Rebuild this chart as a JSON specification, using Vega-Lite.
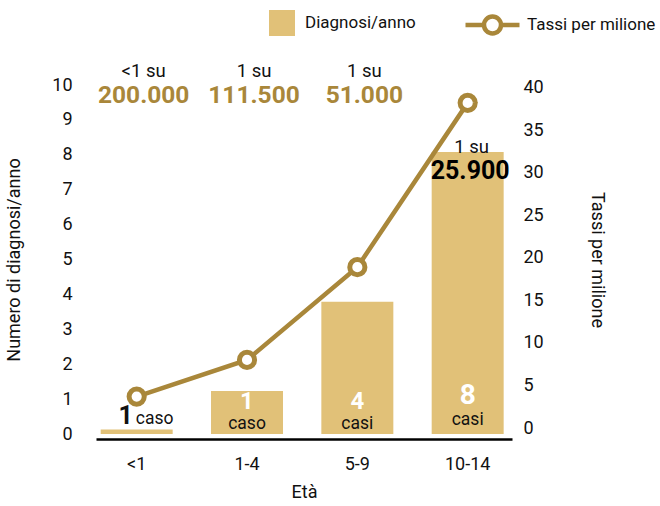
{
  "$schema": "https://vega.github.io/schema/vega-lite/v6.json",
  "width": 416,
  "height": 349,
  "autosize": {"type": "none"},
  "padding": {"left": 96, "top": 85, "right": 148, "bottom": 72},
  "background": "white",
  "config": {
    "font": "Roboto",
    "view": {"stroke": null},
    "axis": {
      "labelFont": "Roboto", "titleFont": "Roboto",
      "labelColor": "#111", "titleColor": "#111",
      "titleFontWeight": "normal", "labelFontSize": 18, "titleFontSize": 18,
      "grid": false, "ticks": false, "tickSize": 0, "labelOverlap": false
    },
    "legend": {"labelFont": "Roboto", "labelFontSize": 17, "labelColor": "#111", "padding": 0, "title": null},
    "text": {"font": "Roboto", "baseline": "middle"}
  },
  "datasets": {
    "d": [
      {"age": "<1", "diagnosi": 0.13, "tassi": 3.7, "su": "<1 su", "freq": "200.000", "casi": "1", "parola": "caso"},
      {"age": "1-4", "diagnosi": 1.23, "tassi": 8.0, "su": "1 su", "freq": "111.500", "casi": "1", "parola": "caso"},
      {"age": "5-9", "diagnosi": 3.79, "tassi": 18.9, "su": "1 su", "freq": "51.000", "casi": "4", "parola": "casi"},
      {"age": "10-14", "diagnosi": 8.08, "tassi": 38.2, "su": "1 su", "freq": "25.900", "casi": "8", "parola": "casi"}
    ]
  },
  "data": {"name": "d"},
  "layer": [
    {
      "layer": [
        {
          "mark": {"type": "bar"},
          "encoding": {
            "x": {
              "field": "age", "type": "nominal", "sort": ["<1", "1-4", "5-9", "10-14"],
              "scale": {"paddingInner": 0.3475, "paddingOuter": 0.059, "align": 0.36},
              "axis": {"title": "Età", "labelAngle": 0, "domain": true, "domainColor": "#000", "domainWidth": 2.5, "offset": 5, "labelPadding": 16, "titlePadding": 10}
            },
            "y": {
              "field": "diagnosi", "type": "quantitative", "scale": {"domain": [0, 10]},
              "axis": {"title": "Numero di diagnosi/anno", "values": [0, 1, 2, 3, 4, 5, 6, 7, 8, 9, 10], "tickCount": 11, "labelOverlap": false, "labelFlush": false, "domain": false, "labelPadding": 24, "titlePadding": 28}
            },
            "fill": {
              "datum": "Diagnosi/anno",
              "scale": {"range": ["#E1C178"]},
              "legend": {"orient": "none", "legendX": 173, "legendY": -75, "symbolType": "square", "symbolSize": 676, "symbolStrokeWidth": 0, "labelOffset": 10}
            }
          }
        },
        {
          "transform": [{"filter": "datum.age !== '10-14'"}],
          "mark": {"type": "text", "fontSize": 18.5, "color": "#111", "dx": 7},
          "encoding": {
            "x": {"field": "age", "type": "nominal", "sort": ["<1", "1-4", "5-9", "10-14"]},
            "y": {"datum": 10.4, "type": "quantitative", "scale": {"domain": [0, 10]}},
            "text": {"field": "su"}
          }
        },
        {
          "transform": [{"filter": "datum.age !== '10-14'"}],
          "mark": {"type": "text", "fontSize": 24.5, "fontWeight": "bold", "color": "#A9873A", "dx": 7},
          "encoding": {
            "x": {"field": "age", "type": "nominal", "sort": ["<1", "1-4", "5-9", "10-14"]},
            "y": {"datum": 9.68, "type": "quantitative", "scale": {"domain": [0, 10]}},
            "text": {"field": "freq"}
          }
        },
        {
          "transform": [{"filter": "datum.age === '10-14'"}],
          "mark": {"type": "text", "fontSize": 18.5, "color": "#111", "dx": 4, "dy": -5},
          "encoding": {
            "x": {"field": "age", "type": "nominal", "sort": ["<1", "1-4", "5-9", "10-14"]},
            "y": {"field": "diagnosi", "type": "quantitative", "scale": {"domain": [0, 10]}},
            "text": {"field": "su"}
          }
        },
        {
          "transform": [{"filter": "datum.age === '10-14'"}],
          "mark": {"type": "text", "fontSize": 25, "fontWeight": "bold", "color": "#000", "dx": 2.5, "dy": 19},
          "encoding": {
            "x": {"field": "age", "type": "nominal", "sort": ["<1", "1-4", "5-9", "10-14"]},
            "y": {"field": "diagnosi", "type": "quantitative", "scale": {"domain": [0, 10]}},
            "text": {"field": "freq"}
          }
        },
        {
          "transform": [{"filter": "datum.age === '1-4' || datum.age === '5-9'"}],
          "mark": {"type": "text", "fontSize": 24, "fontWeight": "bold", "color": "white"},
          "encoding": {
            "x": {"field": "age", "type": "nominal", "sort": ["<1", "1-4", "5-9", "10-14"]},
            "y": {"datum": 0.92, "type": "quantitative", "scale": {"domain": [0, 10]}},
            "text": {"field": "casi"}
          }
        },
        {
          "transform": [{"filter": "datum.age === '10-14'"}],
          "mark": {"type": "text", "fontSize": 28, "fontWeight": "bold", "color": "white"},
          "encoding": {
            "x": {"field": "age", "type": "nominal", "sort": ["<1", "1-4", "5-9", "10-14"]},
            "y": {"datum": 1.09, "type": "quantitative", "scale": {"domain": [0, 10]}},
            "text": {"field": "casi"}
          }
        },
        {
          "transform": [{"filter": "datum.age === '1-4'"}],
          "mark": {"type": "text", "fontSize": 17.5, "color": "#111"},
          "encoding": {
            "x": {"field": "age", "type": "nominal", "sort": ["<1", "1-4", "5-9", "10-14"]},
            "y": {"datum": 0.28, "type": "quantitative", "scale": {"domain": [0, 10]}},
            "text": {"field": "parola"}
          }
        },
        {
          "transform": [{"filter": "datum.age === '5-9'"}],
          "mark": {"type": "text", "fontSize": 17.5, "color": "#111"},
          "encoding": {
            "x": {"field": "age", "type": "nominal", "sort": ["<1", "1-4", "5-9", "10-14"]},
            "y": {"datum": 0.29, "type": "quantitative", "scale": {"domain": [0, 10]}},
            "text": {"field": "parola"}
          }
        },
        {
          "transform": [{"filter": "datum.age === '10-14'"}],
          "mark": {"type": "text", "fontSize": 17.5, "color": "#111"},
          "encoding": {
            "x": {"field": "age", "type": "nominal", "sort": ["<1", "1-4", "5-9", "10-14"]},
            "y": {"datum": 0.41, "type": "quantitative", "scale": {"domain": [0, 10]}},
            "text": {"field": "parola"}
          }
        },
        {
          "transform": [{"filter": "datum.age === '<1'"}],
          "mark": {"type": "text", "fontSize": 25, "fontWeight": "bold", "color": "#111", "dx": -11},
          "encoding": {
            "x": {"field": "age", "type": "nominal", "sort": ["<1", "1-4", "5-9", "10-14"]},
            "y": {"datum": 0.52, "type": "quantitative", "scale": {"domain": [0, 10]}},
            "text": {"field": "casi"}
          }
        },
        {
          "transform": [{"filter": "datum.age === '<1'"}],
          "mark": {"type": "text", "fontSize": 17.5, "color": "#111", "dx": 18},
          "encoding": {
            "x": {"field": "age", "type": "nominal", "sort": ["<1", "1-4", "5-9", "10-14"]},
            "y": {"datum": 0.44, "type": "quantitative", "scale": {"domain": [0, 10]}},
            "text": {"field": "parola"}
          }
        }
      ]
    },
    {
      "layer": [
        {
          "mark": {"type": "line", "strokeWidth": 4.5},
          "encoding": {
            "x": {"field": "age", "type": "nominal", "sort": ["<1", "1-4", "5-9", "10-14"]},
            "y": {
              "field": "tassi", "type": "quantitative", "scale": {"domain": [-0.7, 40.3]},
              "axis": {"orient": "right", "title": "Tassi per milione", "values": [0, 5, 10, 15, 20, 25, 30, 35, 40], "labelOverlap": false, "domain": false, "labelPadding": 11, "titlePadding": 44}
            },
            "stroke": {
              "datum": "Tassi per milione",
              "scale": {"range": ["#A9873A"]},
              "legend": {
                "orient": "none", "legendX": 367, "legendY": -89.5,
                "symbolType": "M-1,0L-0.315,0M0.315,0A0.315,0.315,0,1,1,-0.315,0A0.315,0.315,0,1,1,0.315,0M0.315,0L1,0",
                "symbolSize": 2916, "symbolStrokeWidth": 4.5, "symbolFillColor": "white", "labelOffset": 5,
                "encode": {"symbols": {"update": {"fill": {"value": "white"}}}}
              }
            }
          }
        },
        {
          "mark": {"type": "point", "shape": "circle", "filled": true, "fill": "white", "stroke": "#A9873A", "strokeWidth": 5, "size": 230, "opacity": 1},
          "encoding": {
            "x": {"field": "age", "type": "nominal", "sort": ["<1", "1-4", "5-9", "10-14"]},
            "y": {"field": "tassi", "type": "quantitative", "scale": {"domain": [-0.7, 40.3]}}
          }
        }
      ]
    }
  ],
  "resolve": {"scale": {"y": "independent"}}
}
